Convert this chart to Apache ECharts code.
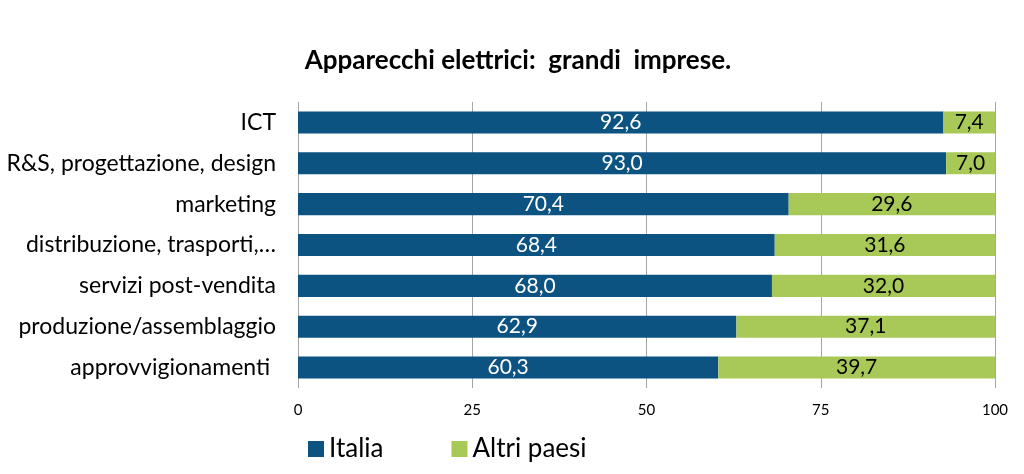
<!DOCTYPE html>
<html><head><meta charset="utf-8">
<script src="https://cdn.jsdelivr.net/npm/echarts@6/dist/echarts.min.js"></script>
<style>html,body{margin:0;padding:0;background:#fff}#c{width:1024px;height:474px}</style>
</head><body><div id="c"></div>
<script>
const categories = ['ICT','R&S, progettazione, design','marketing','distribuzione, trasporti,…','servizi post-vendita','produzione/assemblaggio','approvvigionamenti '];
const italia = [92.6, 93.0, 70.4, 68.4, 68.0, 62.9, 60.3];
const altri = [7.4, 7.0, 29.6, 31.6, 32.0, 37.1, 39.7];
const xTicks = [0, 25, 50, 75, 100];
const F = 'Lato, "Open Sans", sans-serif';
const chart = echarts.init(document.getElementById('c'));
const fmt = p => p.value.toFixed(1).replace('.', ',');
chart.setOption({
  animation: false,
  title: { text: 'Apparecchi elettrici:  grandi  imprese.', left: 513, top: 43, textAlign: 'center',
    textStyle: { fontFamily: F, fontWeight: 'bold', fontSize: 26, color: '#000' } },
  legend: { left: 303, top: 431, itemWidth: 16, itemHeight: 16, itemGap: 68, icon: 'rect',
    textStyle: { fontFamily: F, fontSize: 26, color: '#000' },
    data: ['Italia', 'Altri paesi'] },
  grid: { left: 298, right: 29, top: 102, bottom: 86, containLabel: false },
  xAxis: { type: 'value', min: 0, max: 100, interval: 25,
    axisLine: { show: false }, axisTick: { show: false },
    splitLine: { show: true, lineStyle: { color: '#a6a6a6', width: 1 } },
    axisLabel: { fontFamily: F, fontSize: 15, color: '#000', margin: 15,
      formatter: v => xTicks.includes(v) ? String(v) : '' } },
  yAxis: { type: 'category', inverse: true, data: categories,
    axisLine: { show: false }, axisTick: { show: false },
    axisLabel: { fontFamily: F, fontSize: 23, color: '#000', margin: 22 } },
  series: [
    { name: 'Italia', type: 'bar', stack: 't', data: italia, barWidth: '54%',
      itemStyle: { color: '#0D5382' },
      label: { show: true, position: 'inside', color: '#fff', fontFamily: F, fontSize: 21, formatter: fmt } },
    { name: 'Altri paesi', type: 'bar', stack: 't', data: altri, barWidth: '54%',
      itemStyle: { color: '#A8C957' },
      label: { show: true, position: 'inside', color: '#000', fontFamily: F, fontSize: 21, formatter: fmt } }
  ]
});
</script></body></html>
